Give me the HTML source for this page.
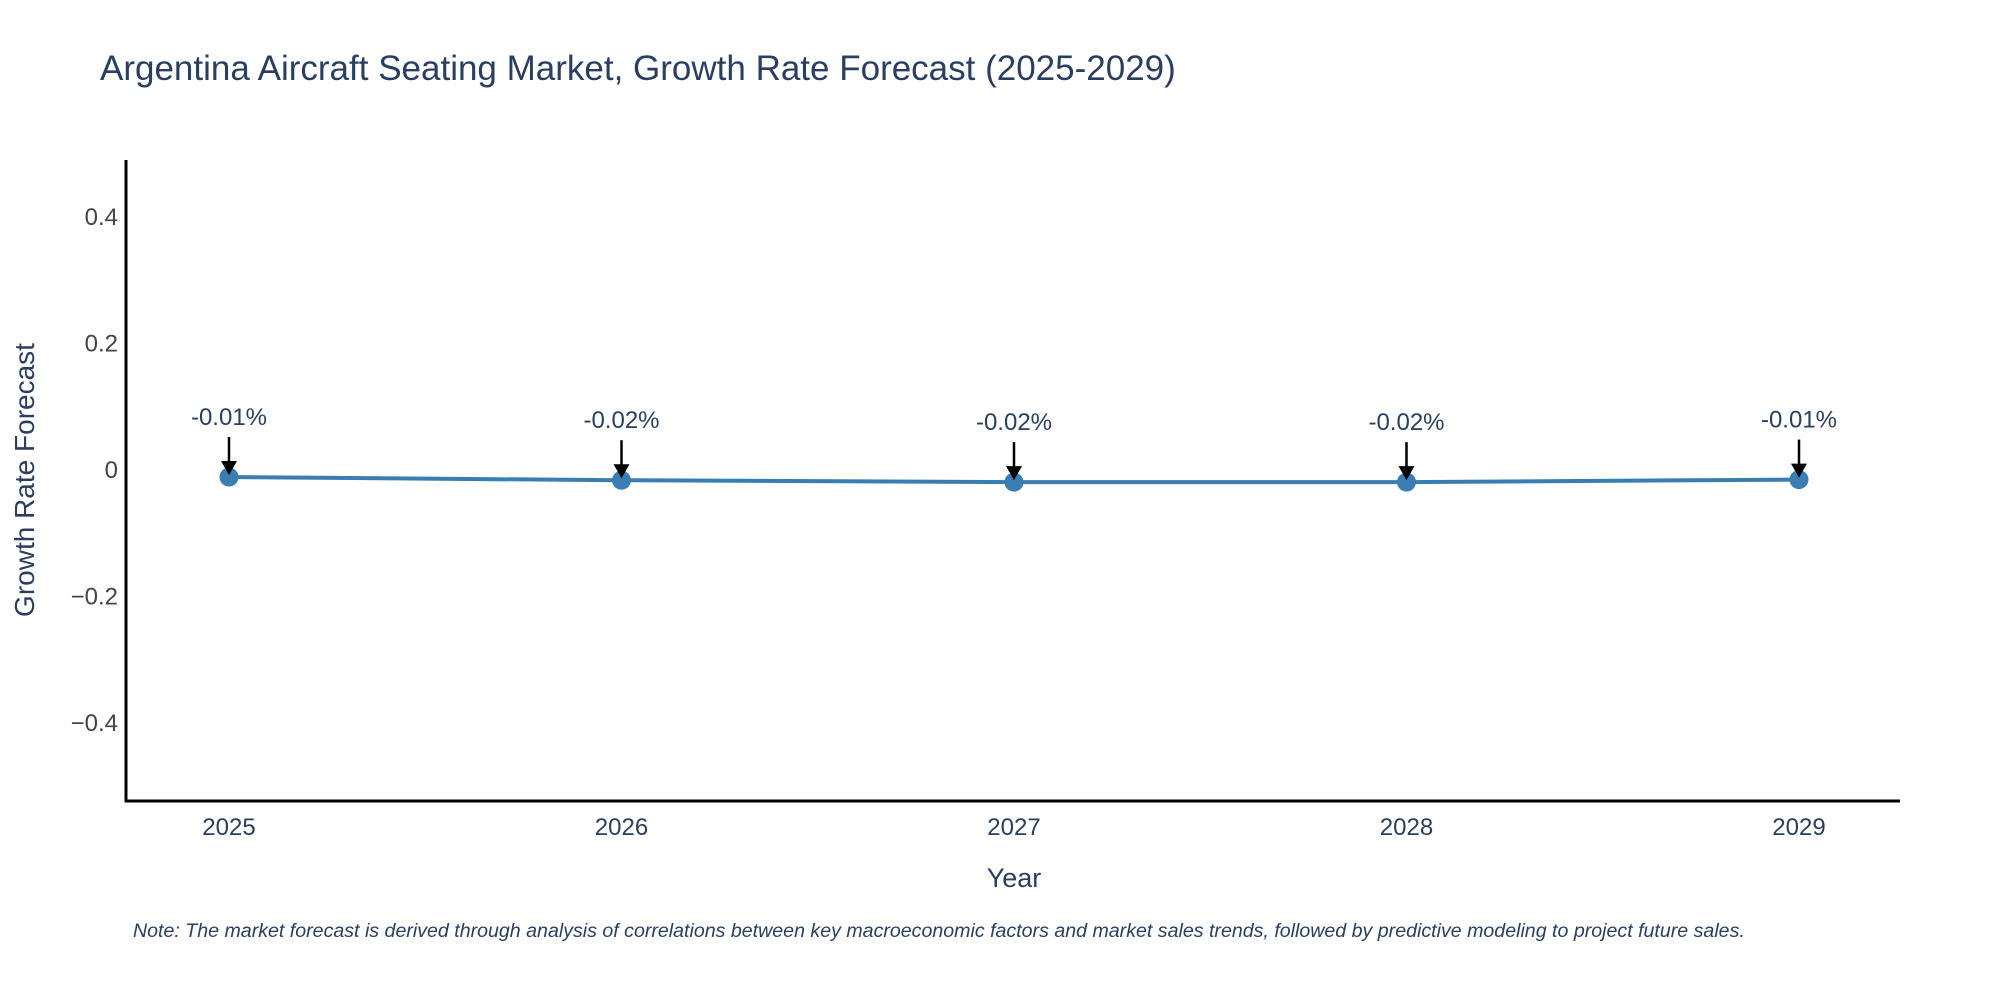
<!DOCTYPE html>
<html><head><meta charset="utf-8"><style>
body{margin:0;background:#fff;}
svg{display:block;font-family:"Liberation Sans",sans-serif;}
</style></head><body>
<svg id="chart" width="2000" height="1000" viewBox="0 0 2000 1000">
<text x="100" y="80" font-size="35" fill="#2a3f5f">Argentina Aircraft Seating Market, Growth Rate Forecast (2025-2029)</text>
<g id="yticks"></g>
<g id="xticks"></g>
<line x1="126" y1="160" x2="126" y2="802" stroke="#000" stroke-width="3"/>
<line x1="125" y1="801" x2="1900" y2="801" stroke="#000" stroke-width="3"/>
<g id="series"></g>
<text x="1014" y="887" font-size="27" fill="#2a3f5f" text-anchor="middle">Year</text>
<text x="0" y="0" font-size="28" fill="#2a3f5f" text-anchor="middle" transform="translate(34,480) rotate(-90)">Growth Rate Forecast</text>
<text x="133" y="937" font-size="19.6" font-style="italic" fill="#2a3f5f">Note: The market forecast is derived through analysis of correlations between key macroeconomic factors and market sales trends, followed by predictive modeling to project future sales.</text>
</svg>
<script>
const years = [2025, 2026, 2027, 2028, 2029];
const values = [-0.008, -0.013, -0.016, -0.016, -0.012];
const valueLabels = ["-0.01%", "-0.02%", "-0.02%", "-0.02%", "-0.01%"];
const yTicks = [0.4, 0.2, 0, -0.2, -0.4];
const yTickLabels = ["0.4", "0.2", "0", "\u22120.2", "\u22120.4"];

const NS = "http://www.w3.org/2000/svg";
function xScale(yr){ return 229 + (yr - 2025) * 392.5; }
function yScale(v){ return 472 - v * 632.5; }
function mk(tag, attrs, parent){
  const e = document.createElementNS(NS, tag);
  for (const k in attrs) e.setAttribute(k, attrs[k]);
  parent.appendChild(e); return e;
}
const yg = document.getElementById('yticks');
yTicks.forEach((t,i)=>{
  const e = mk('text',{x:118,y:yScale(t)+6,'font-size':24,fill:'#444','text-anchor':'end'},yg);
  
  
  e.textContent = yTickLabels[i];
});
const xg = document.getElementById('xticks');
years.forEach(yr=>{
  const e = mk('text',{x:xScale(yr),y:835,'font-size':24,fill:'#2a3f5f','text-anchor':'middle'},xg);
  
  
  e.textContent = yr;
});
const sg = document.getElementById('series');
const pts = years.map((yr,i)=>xScale(yr)+','+yScale(values[i])).join(' ');
const line = mk('polyline',{points:pts,fill:'none',stroke:'#3a7db2','stroke-width':4},sg);


years.forEach((yr,i)=>{
  const cx = xScale(yr), cy = yScale(values[i]);
  const c = mk('circle',{cx:cx,cy:cy,r:9.5,fill:'#3a7db2'},sg);
  
  
  const a = mk('line',{x1:cx,y1:cy-40,x2:cx,y2:cy-14,stroke:'#000','stroke-width':2.5},sg);
  
  
  const h = mk('polygon',{points:(cx-8)+','+(cy-16)+' '+(cx+8)+','+(cy-16)+' '+cx+','+(cy-2),fill:'#000'},sg);
  
  
  const t = mk('text',{x:cx,y:cy-52,'font-size':24,fill:'#2a3f5f','text-anchor':'middle'},sg);
  
  
  t.textContent = valueLabels[i];
});
</script>
</body></html>
